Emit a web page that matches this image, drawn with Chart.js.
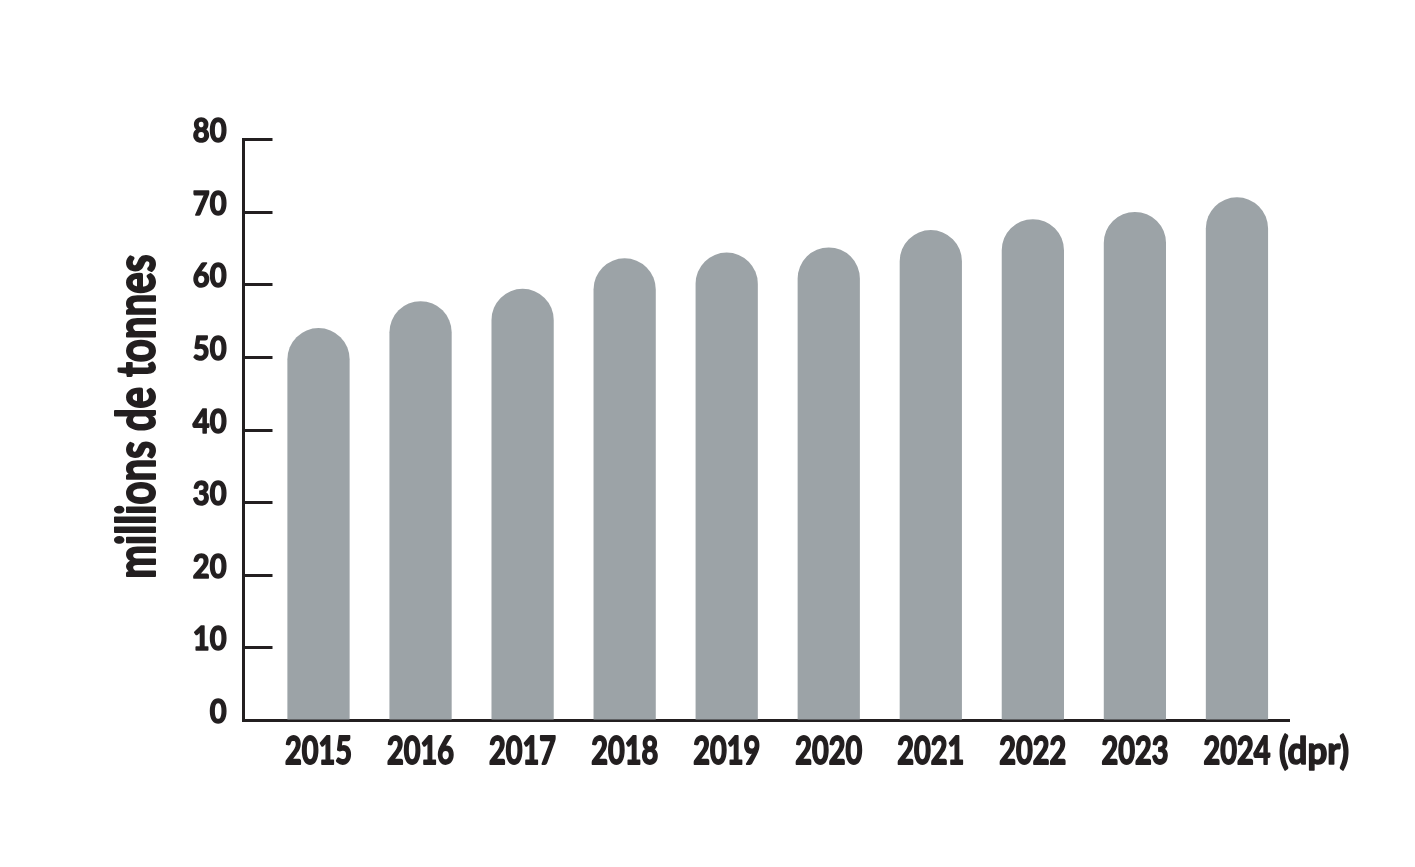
<!DOCTYPE html>
<html>
<head>
<meta charset="utf-8">
<script src="https://cdn.jsdelivr.net/npm/chart.js@4/dist/chart.umd.min.js"></script>
<style>
  html, body { margin: 0; padding: 0; background: #ffffff; }
  #wrap { width: 1415px; height: 867px; }
</style>
</head>
<body>
<div id="wrap"><canvas id="c" width="1415" height="867"></canvas></div>
<script>
// ---- data ----
const years = ['2015', '2016', '2017', '2018', '2019', '2020', '2021', '2022', '2023', '2024'];
const yearNotes = ['', '', '', '', '', '', '', '', '', '(dpr)'];
const production = [54.0, 57.7, 59.4, 63.6, 64.4, 65.1, 67.5, 69.0, 70.0, 72.0];
const yMin = 0, yMax = 80, yStep = 10;
const yTitle = 'millions de tonnes';

const FONT = 'Lato, "Liberation Sans", sans-serif';
const WEIGHT = 'bold';
const INK = '#231f20';
const BAR = '#9ca3a7';

function squeezedText(ctx, text, x, y, sx, align, heavy) {
  ctx.save();
  ctx.translate(x, y);
  ctx.scale(sx, 1);
  ctx.textAlign = align;
  ctx.fillText(text, 0, 0);
  ctx.lineJoin = 'round';
  ctx.strokeStyle = INK;
  ctx.lineWidth = heavy;
  ctx.strokeText(text, 0, 0);
  ctx.restore();
}

const axisDecor = {
  id: 'axisDecor',
  afterDatasetsDraw(chart) {
    const { ctx, chartArea } = chart;
    const ys = chart.scales.y, xs = chart.scales.x;
    ctx.save();
    // inner tick marks on y axis
    ctx.strokeStyle = INK;
    ctx.lineWidth = 3;
    ys.ticks.forEach(t => {
      if (t.value === yMin) return;
      const y = Math.round(ys.getPixelForValue(t.value)) + 0.5;
      ctx.beginPath();
      ctx.moveTo(chartArea.left, y);
      ctx.lineTo(chartArea.left + 29, y);
      ctx.stroke();
    });
    ctx.fillStyle = INK;
    ctx.textBaseline = 'alphabetic';
    // y tick labels
    ctx.font = WEIGHT + ' 33px ' + FONT;
    ys.ticks.forEach(t => {
      const y = ys.getPixelForValue(t.value) + 3;
      squeezedText(ctx, String(t.value), chartArea.left - 17, y, 0.88, 'right', 1.6);
    });
    // x labels
    ctx.font = WEIGHT + ' 38px ' + FONT;
    const sxX = 0.76;
    years.forEach((yr, i) => {
      const x = xs.getPixelForValue(i);
      const y = chartArea.bottom + 44;
      squeezedText(ctx, yr, x, y, sxX, 'center', 1.8);
      if (yearNotes[i]) {
        const w = ctx.measureText(yr).width * sxX;
        squeezedText(ctx, ' ' + yearNotes[i], x + w / 2, y, 0.92, 'left', 1.6);
      }
    });
    // y title
    ctx.font = WEIGHT + ' 53px ' + FONT;
    ctx.translate(chartArea.left - 88.5, (chartArea.top + chartArea.bottom) / 2 - 13);
    ctx.rotate(-Math.PI / 2);
    squeezedText(ctx, yTitle, 0, 0, 0.76, 'center', 2);
    ctx.restore();
  }
};

new Chart(document.getElementById('c'), {
  type: 'bar',
  data: {
    datasets: [{
      data: production.map((v, i) => ({ x: i, y: v })),
      backgroundColor: BAR,
      borderWidth: 0,
      borderSkipped: 'start',
      borderRadius: { topLeft: 40, topRight: 40, bottomLeft: 0, bottomRight: 0 },
      categoryPercentage: 1,
      barPercentage: 0.61
    }]
  },
  options: {
    responsive: false,
    animation: false,
    devicePixelRatio: 1,
    layout: { padding: { left: 0, right: 126, top: 139.3, bottom: 0 } },
    plugins: { legend: { display: false }, tooltip: { enabled: false } },
    scales: {
      x: {
        type: 'linear',
        min: -0.735,
        max: 9.51,
        offset: false,
        grid: { display: true, drawOnChartArea: false, drawTicks: false, offset: false },
        border: { display: true, color: INK, width: 3 },
        ticks: { display: false, stepSize: 1, includeBounds: false },
        afterFit(s) { s.height = 147; }
      },
      y: {
        min: yMin,
        max: yMax,
        grid: { display: true, drawOnChartArea: false, drawTicks: false },
        border: { display: true, color: INK, width: 3 },
        ticks: { display: false, stepSize: yStep },
        afterFit(s) { s.width = 243.5; }
      }
    }
  },
  plugins: [axisDecor]
});
</script>
</body>
</html>
